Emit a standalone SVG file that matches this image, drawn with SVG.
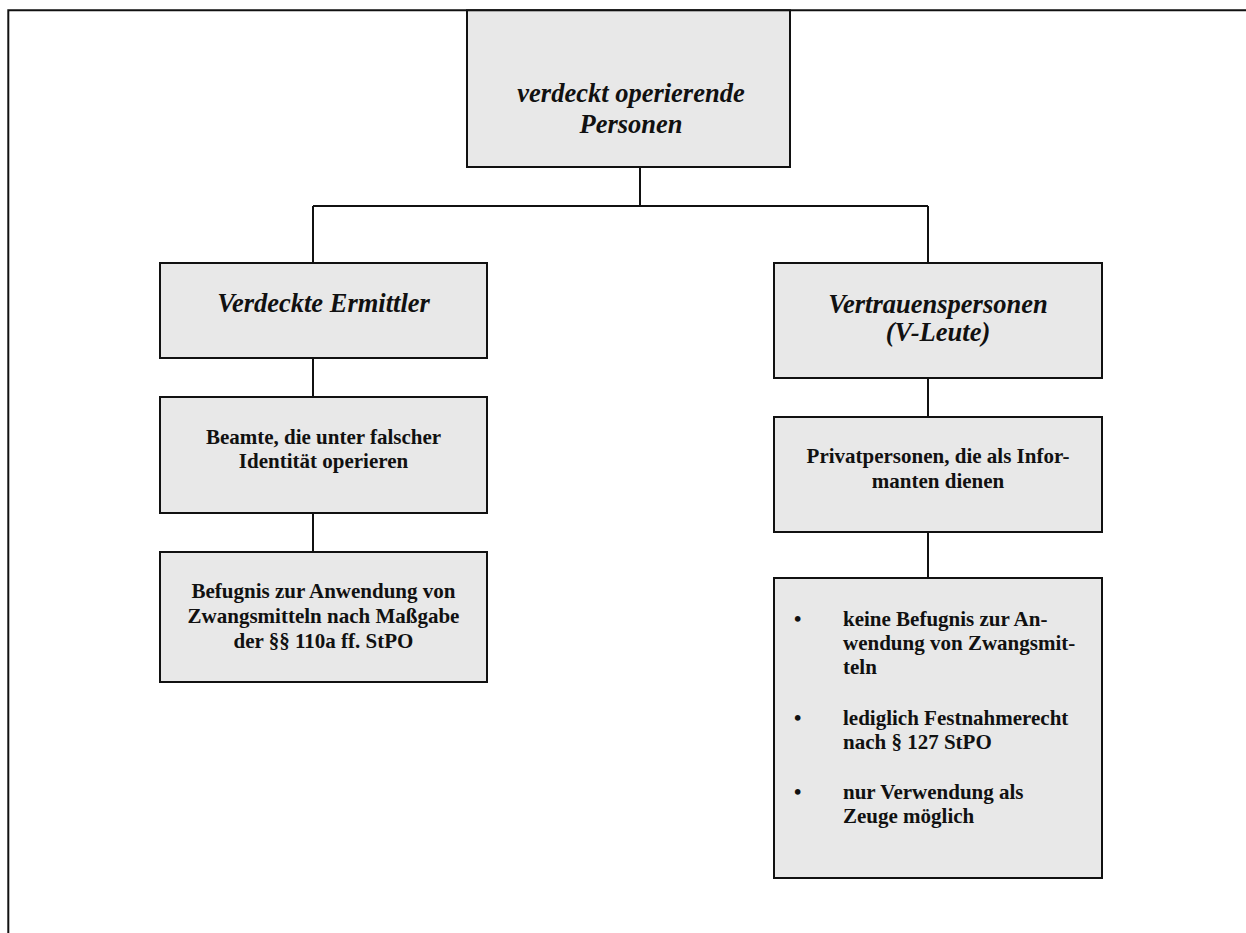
<svg xmlns="http://www.w3.org/2000/svg" width="1246" height="933" viewBox="0 0 1246 933">
  <style>
    .box { fill: #e8e8e8; stroke: #111; stroke-width: 2; }
    .line { stroke: #111; stroke-width: 2; fill: none; }
    .head { font-family: "Liberation Serif", "Times New Roman", serif; font-weight: bold; font-style: italic; font-size: 26.5px; fill: #111; text-anchor: middle; }
    .body { font-family: "Liberation Serif", "Times New Roman", serif; font-weight: bold; font-size: 21px; fill: #111; text-anchor: middle; }
    .list { font-family: "Liberation Serif", "Times New Roman", serif; font-weight: bold; font-size: 21px; fill: #111; }
  </style>

  <!-- page frame (top and left edges only) -->
  <path class="line" d="M8.3,933 V10.3 H1246" stroke-width="2"/>

  <!-- connectors -->
  <g id="connectors">
    <path class="line" d="M640,167 V206"/>
    <path class="line" d="M313,206 H928"/>
    <path class="line" d="M313,206 V263"/>
    <path class="line" d="M928,206 V263"/>
    <path class="line" d="M313,358 V397"/>
    <path class="line" d="M313,513 V552"/>
    <path class="line" d="M928,378 V417"/>
    <path class="line" d="M928,532 V578"/>
  </g>

  <g id="root">
    <rect class="box" x="467" y="10.3" width="323" height="156.7"/>
    <text class="head" x="631" y="102">verdeckt operierende</text>
    <text class="head" x="631" y="133">Personen</text>
  </g>

  <g id="verdeckte-ermittler">
    <rect class="box" x="160" y="263" width="327" height="95"/>
    <text class="head" x="323.5" y="312">Verdeckte Ermittler</text>
  </g>

  <g id="vertrauenspersonen">
    <rect class="box" x="774" y="263" width="328" height="115"/>
    <text class="head" x="938" y="313">Vertrauenspersonen</text>
    <text class="head" x="938" y="341">(V-Leute)</text>
  </g>

  <g id="beamte">
    <rect class="box" x="160" y="397" width="327" height="116"/>
    <text class="body" x="323.5" y="444">Beamte, die unter falscher</text>
    <text class="body" x="323.5" y="468">Identität operieren</text>
  </g>

  <g id="befugnis">
    <rect class="box" x="160" y="552" width="327" height="130"/>
    <text class="body" x="323.5" y="598">Befugnis zur Anwendung von</text>
    <text class="body" x="323.5" y="623">Zwangsmitteln nach Maßgabe</text>
    <text class="body" x="323.5" y="648">der §§ 110a ff. StPO</text>
  </g>

  <g id="privatpersonen">
    <rect class="box" x="774" y="417" width="328" height="115"/>
    <text class="body" x="938" y="463">Privatpersonen, die als Infor-</text>
    <text class="body" x="938" y="488">manten dienen</text>
  </g>

  <g id="keine-befugnis">
    <rect class="box" x="774" y="578" width="328" height="300"/>
    <text class="list" x="794" y="626">•</text>
    <text class="list" x="843" y="626">keine Befugnis zur An-</text>
    <text class="list" x="843" y="650">wendung von Zwangsmit-</text>
    <text class="list" x="843" y="674">teln</text>
    <text class="list" x="794" y="725">•</text>
    <text class="list" x="843" y="725">lediglich Festnahmerecht</text>
    <text class="list" x="843" y="749">nach § 127 StPO</text>
    <text class="list" x="794" y="799">•</text>
    <text class="list" x="843" y="799">nur Verwendung als</text>
    <text class="list" x="843" y="823">Zeuge möglich</text>
  </g>
</svg>
